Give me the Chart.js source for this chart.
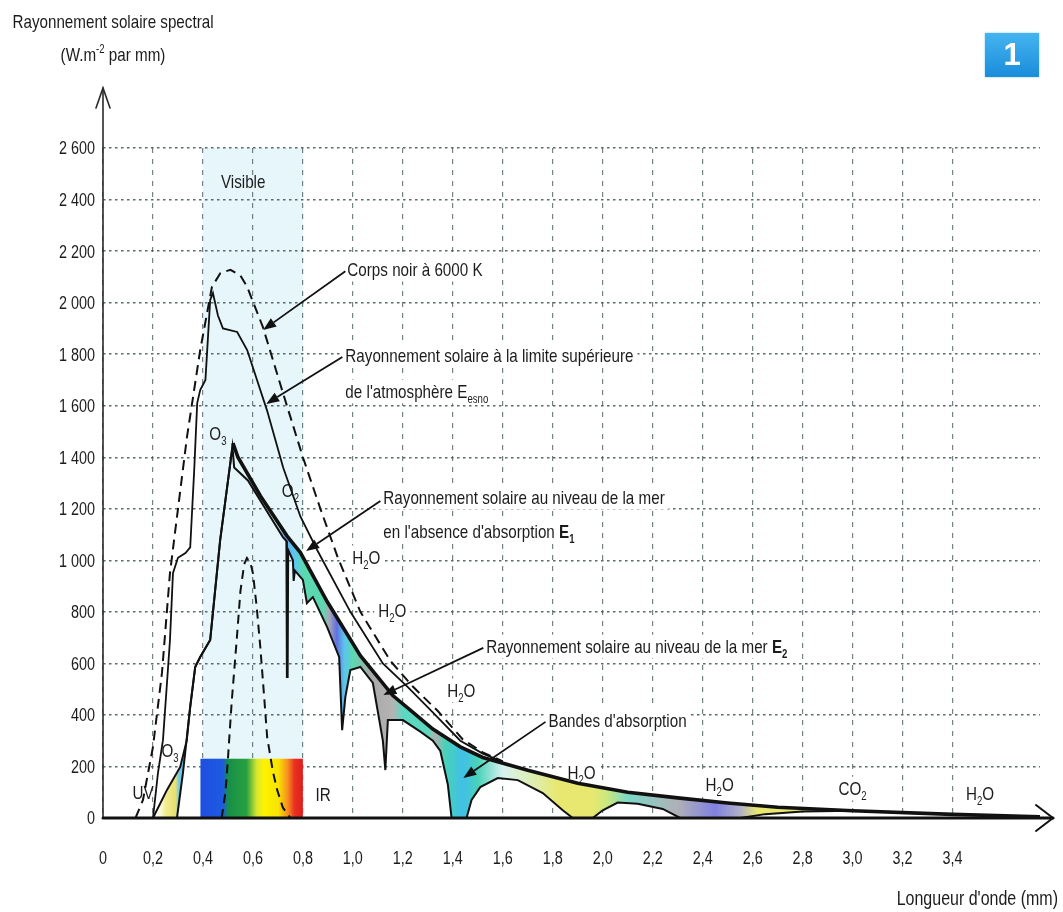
<!DOCTYPE html>
<html lang="fr"><head><meta charset="utf-8"><title>Rayonnement solaire spectral</title>
<script src="https://cdn.jsdelivr.net/npm/chart.js@4.4.1/dist/chart.umd.min.js"></script>
<style>
html,body{margin:0;padding:0;background:#fff;}
#wrap{position:relative;width:1063px;height:912px;overflow:hidden;}
#chart{position:absolute;left:0;top:0;}
#badge{position:absolute;left:985px;top:33px;width:54px;height:44px;background:linear-gradient(#45b4f0,#1a8ddb);color:#fff;font:bold 31px "Liberation Sans",Arial,sans-serif;display:flex;align-items:center;justify-content:center;box-shadow:0 0 2px #7fc7f0;}
</style></head>
<body><div id="wrap"><canvas id="chart" width="1063" height="912"></canvas><div id="badge">1</div></div>
<script>
// ---------------- DATA ----------------
const xTickValues = [0,0.2,0.4,0.6,0.8,1.0,1.2,1.4,1.6,1.8,2.0,2.2,2.4,2.6,2.8,3.0,3.2,3.4];
const yTickValues = [0,200,400,600,800,1000,1200,1400,1600,1800,2000,2200,2400,2600];

// Corps noir à 6000 K
const blackBodyX = [0.13,0.16,0.2,0.236,0.268,0.288,0.336,0.389,0.436,0.47,0.51,0.55,0.577,0.64,0.72,0.80,0.87,0.94,1.03,1.15,1.24,1.34,1.44,1.52,1.6];
const blackBodyY = [0,70,276,563,950,1106,1478,1816,2061,2115,2127,2105,2061,1905,1650,1400,1200,1010,800,610,510,415,305,255,220];

// Limite supérieure de l'atmosphère (E esno)
const esnoX = [0.2,0.22,0.24,0.268,0.28,0.30,0.33,0.349,0.365,0.377,0.389,0.41,0.429,0.44,0.46,0.48,0.537,0.577,0.657,0.721,0.79,0.857,0.99,1.12,1.22,1.32,1.43,1.52,1.6];
const esnoY = [0,175,302,690,950,1010,1028,1050,1350,1610,1661,1700,2010,2037,1950,1900,1886,1816,1580,1360,1170,1040,800,600,508,410,300,250,218];

// Niveau de la mer sans absorption (E1)
const e1X = [0.2,0.256,0.309,0.335,0.349,0.369,0.389,0.429,0.449,0.469,0.495,0.52,0.54,0.63,0.736,0.79,0.897,1.03,1.16,1.23,1.32,1.43,1.52,1.7,1.9,2.1,2.3,2.5,2.7,3.0,3.4,3.75];
const e1Y = [0,109,198,300,431,586,625,691,885,1079,1270,1455,1400,1250,1095,1030,840,630,475,419,345,276,235,185,135,100,78,58,42,28,14,5];

// Niveau de la mer avec absorption (E2)
const e2X = [0.2,0.296,0.32,0.349,0.369,0.389,0.429,0.449,0.469,0.495,0.518,0.525,0.58,0.669,0.72,0.734,0.736,0.739,0.741,0.76,0.763,0.768,0.80,0.816,0.84,0.897,0.945,0.957,0.97,0.99,1.03,1.08,1.12,1.13,1.14,1.20,1.27,1.32,1.35,1.38,1.395,1.455,1.475,1.51,1.58,1.66,1.76,1.84,1.88,1.96,2.0,2.06,2.14,2.24,2.31,2.55,2.65,2.8,3.0];
const e2Y = [0,0,175,431,586,625,691,885,1079,1270,1440,1360,1310,1170,1090,1075,547,547,1040,1000,920,960,924,834,857,741,625,341,470,574,586,524,300,186,380,380,335,300,260,130,0,0,70,120,155,147,97,30,0,0,30,60,55,35,0,0,15,25,28];

// Sensibilité de l'œil (courbe du visible)
const eyeX = [0.475,0.49,0.50,0.515,0.535,0.55,0.565,0.576,0.59,0.60,0.615,0.629,0.645,0.657,0.68,0.697,0.72,0.75];
const eyeY = [0,100,230,450,690,880,985,1009,990,950,820,670,470,314,180,109,40,0];

const visibleRange = [0.4, 0.8];
const spectrumBar = {from: 0.39, to: 0.8, top: 230};

// ---------------- STYLE ----------------
const FONT = '"Liberation Sans",Arial,sans-serif';
const SX = 0.8;           // horizontal condensing of text (narrow face look)
const TXT = '#1c1c1c';
const BAND_COLORS = [[0.2,'rgba(255,255,255,0)'],[0.25,'#f2ec90'],[0.29,'#e8e070'],[0.305,'#70c8ec'],[0.34,'#70c8ec'],[0.5,'#e4f6f6'],[0.70,'#d0f0f2'],[0.725,'#6aaef0'],[0.77,'#5cc8f0'],[0.80,'#5cd8b0'],[0.88,'#5cd8b0'],[0.905,'#a8a8b4'],[0.935,'#6070e0'],[0.965,'#5cc4ee'],[1.0,'#5cd8b0'],[1.07,'#a8a8a8'],[1.16,'#b4b4b4'],[1.2,'#5cd8c0'],[1.3,'#5cd8c0'],[1.33,'#b0b0b0'],[1.37,'#48d2b8'],[1.44,'#40c0e8'],[1.5,'#48d2b8'],[1.6,'#d8f2f0'],[1.75,'#e0eca0'],[1.82,'#e8e870'],[1.96,'#e8e870'],[2.02,'#c8e880'],[2.1,'#7cd8c8'],[2.3,'#b0b0b8'],[2.45,'#8080e0'],[2.55,'#b0b0c8'],[2.62,'#e8e870'],[2.8,'#e8e870'],[2.95,'#70c0c0']];
const SPECTRUM_COLORS = [[0,'#1d4fe2'],[0.22,'#1f5ae0'],[0.27,'#168f48'],[0.45,'#2aa040'],[0.55,'#d8e830'],[0.62,'#fff200'],[0.76,'#f8e400'],[0.85,'#f89020'],[0.92,'#e83020'],[1,'#e01e1e']];

const labels = [
  {parts:[['Visible']], x:0.561, y:2472, align:'center'},
  {parts:[['Corps noir à 6000 K']], x:0.978, y:2130, box:true},
  {parts:[['Rayonnement solaire à la limite supérieure']], x:0.97, y:1797, box:true},
  {parts:[["de l'atmosphère E"],['esno','sub']], x:0.97, y:1657, box:true},
  {parts:[['O'],['3','sub']], x:0.46, y:1494, align:'center'},
  {parts:[['O'],['2','sub']], x:0.75, y:1273, align:'center'},
  {parts:[['Rayonnement solaire au niveau de la mer']], x:1.122, y:1246, box:true},
  {parts:[["en l'absence d'absorption "],['E','b'],['1','bsub']], x:1.122, y:1114, box:true},
  {parts:[['H'],['2','sub'],['O']], x:1.054, y:1013, align:'center', box:true},
  {parts:[['H'],['2','sub'],['O']], x:1.158, y:807, align:'center', box:true},
  {parts:[['Rayonnement solaire au niveau de la mer '],['E','b'],['2','bsub']], x:1.534, y:667, box:true},
  {parts:[['H'],['2','sub'],['O']], x:1.434, y:497, align:'center', box:true},
  {parts:[["Bandes d'absorption"]], x:1.783, y:380, box:true},
  {parts:[['O'],['3','sub']], x:0.268, y:264, align:'center'},
  {parts:[['UV']], x:0.16, y:101, align:'center'},
  {parts:[['IR']], x:0.881, y:93, align:'center'},
  {parts:[['H'],['2','sub'],['O']], x:1.915, y:178, align:'center', box:true},
  {parts:[['H'],['2','sub'],['O']], x:2.468, y:132, align:'center', box:true},
  {parts:[['CO'],['2','sub']], x:3.0, y:116, align:'center', box:true},
  {parts:[['H'],['2','sub'],['O']], x:3.51, y:97, align:'center', box:true}
];
const arrows = [
  {from:[0.97,2122], to:[0.641,1894]},
  {from:[0.958,1789], to:[0.653,1607]},
  {from:[1.11,1230], to:[0.813,1036]},
  {from:[1.522,660], to:[1.122,477]},
  {from:[1.771,373], to:[1.442,155]}
];

// ---------------- HELPERS ----------------
const pts = (xs, ys) => xs.map((x, i) => ({x, y: ys[i]}));
const fmtX = v => v === 0 ? '0' : v.toFixed(1).replace('.', ',');
const fmtY = v => v >= 1000 ? Math.floor(v/1000) + ' ' + String(v % 1000).padStart(3, '0') : String(v);

function bandGradient(chart) {
  const a = chart.chartArea;
  if (!a) return 'rgba(90,210,180,0.8)';
  const sx = chart.scales.x;
  const g = chart.ctx.createLinearGradient(a.left, 0, a.right, 0);
  BAND_COLORS.forEach(([v, c]) => {
    const o = (sx.getPixelForValue(v) - a.left) / (a.right - a.left);
    g.addColorStop(Math.max(0, Math.min(1, o)), c);
  });
  return g;
}

function drawRich(ctx, parts, x, y, size, align, box) {
  let w = 0;
  const segs = parts.map(([t, m]) => {
    const small = m === 'sub' || m === 'bsub' || m === 'sup';
    const fs = small ? Math.round(size * 0.64) : size;
    const weight = (m === 'b' || m === 'bsub') ? 'bold ' : '';
    ctx.font = weight + fs + 'px ' + FONT;
    const sw = ctx.measureText(t).width * SX;
    w += sw;
    return {t, m, fs, weight, sw};
  });
  let x0 = align === 'center' ? x - w / 2 : (align === 'right' ? x - w : x);
  if (box) {
    ctx.fillStyle = '#fff';
    ctx.fillRect(x0 - 4, y - size * 0.6, w + 8, size * 1.25);
  }
  ctx.fillStyle = TXT;
  ctx.textBaseline = 'alphabetic';
  ctx.textAlign = 'left';
  const base = y + size * 0.36;
  segs.forEach(s => {
    ctx.font = s.weight + s.fs + 'px ' + FONT;
    let dy = 0;
    if (s.m === 'sub' || s.m === 'bsub') dy = size * 0.26;
    if (s.m === 'sup') dy = -size * 0.42;
    ctx.save();
    ctx.translate(x0, base + dy);
    ctx.scale(SX, 1);
    ctx.fillText(s.t, 0, 0);
    ctx.restore();
    x0 += s.sw;
  });
}

const decorPlugin = {
  id: 'decor',
  beforeDraw(chart) {
    const {ctx, chartArea: a, scales: {x}} = chart;
    ctx.save();
    ctx.fillStyle = '#e6f6fa';
    const x0 = x.getPixelForValue(visibleRange[0]), x1 = x.getPixelForValue(visibleRange[1]);
    ctx.fillRect(x0, a.top, x1 - x0, a.bottom - a.top);
    ctx.restore();
  },
  beforeDatasetsDraw(chart) {
    const {ctx, scales: {x, y}} = chart;
    ctx.save();
    const bx0 = x.getPixelForValue(spectrumBar.from), bx1 = x.getPixelForValue(spectrumBar.to);
    const by0 = y.getPixelForValue(spectrumBar.top), by1 = y.getPixelForValue(0);
    const g = ctx.createLinearGradient(bx0, 0, bx1, 0);
    SPECTRUM_COLORS.forEach(([o, c]) => g.addColorStop(o, c));
    ctx.fillStyle = g;
    ctx.fillRect(bx0, by0, bx1 - bx0, by1 - by0);
    labels.forEach(l => drawRich(ctx, l.parts, x.getPixelForValue(l.x), y.getPixelForValue(l.y), l.size || 19, l.align || 'left', l.box));
    ctx.restore();
  },
  afterDatasetsDraw(chart) {
    const {ctx, scales: {x, y}} = chart;
    ctx.save();
    ctx.strokeStyle = '#111';
    ctx.fillStyle = '#111';
    ctx.lineWidth = 1.8;
    arrows.forEach(ar => {
      const fx = x.getPixelForValue(ar.from[0]), fy = y.getPixelForValue(ar.from[1]);
      const tx = x.getPixelForValue(ar.to[0]), ty = y.getPixelForValue(ar.to[1]);
      const ang = Math.atan2(ty - fy, tx - fx);
      const L = 13, W = 5;
      const bx = tx - L * Math.cos(ang), by = ty - L * Math.sin(ang);
      ctx.beginPath(); ctx.moveTo(fx, fy); ctx.lineTo(bx, by); ctx.stroke();
      ctx.beginPath();
      ctx.moveTo(tx, ty);
      ctx.lineTo(bx + W * Math.sin(ang), by - W * Math.cos(ang));
      ctx.lineTo(bx - W * Math.sin(ang), by + W * Math.cos(ang));
      ctx.closePath(); ctx.fill();
    });
    ctx.restore();
  },
  afterDraw(chart) {
    const {ctx, chartArea: a, scales: {x, y}} = chart;
    ctx.save();
    ctx.strokeStyle = '#2a2a2a';
    ctx.lineCap = 'round';
    const yTop = a.top - 60;
    ctx.lineWidth = 1.6;
    ctx.beginPath(); ctx.moveTo(a.left, a.bottom); ctx.lineTo(a.left, yTop); ctx.stroke();
    ctx.beginPath(); ctx.moveTo(a.left - 7, yTop + 20); ctx.lineTo(a.left, yTop); ctx.lineTo(a.left + 7, yTop + 20); ctx.stroke();
    const xEnd = a.right + 13;
    ctx.strokeStyle = '#111';
    ctx.lineWidth = 3;
    ctx.beginPath(); ctx.moveTo(a.left, a.bottom); ctx.lineTo(xEnd, a.bottom); ctx.stroke();
    ctx.lineWidth = 2;
    ctx.beginPath(); ctx.moveTo(xEnd - 17, a.bottom - 13); ctx.lineTo(xEnd, a.bottom); ctx.lineTo(xEnd - 17, a.bottom + 13); ctx.stroke();
    // tick labels (condensed), positioned by the scales
    xTickValues.forEach(v => drawRich(ctx, [[fmtX(v)]], x.getPixelForValue(v), a.bottom + 40, 18, 'center', false));
    yTickValues.forEach(v => drawRich(ctx, [[fmtY(v)]], a.left - 8, y.getPixelForValue(v), 18, 'right', false));
    // axis titles
    drawRich(ctx, [['Rayonnement solaire spectral']], 113, 21, 19, 'center', false);
    drawRich(ctx, [['(W.m'], ['-2', 'sup'], [' par mm)']], 113, 54, 19, 'center', false);
    drawRich(ctx, [["Longueur d'onde (mm)"]], 1058, 898, 20, 'right', false);
    ctx.restore();
  }
};

const lineBase = {pointRadius: 0, tension: 0, fill: false, borderColor: '#111'};

new Chart(document.getElementById('chart'), {
  type: 'line',
  data: {
    datasets: [
      {...lineBase, label: 'Corps noir à 6000 K', data: pts(blackBodyX, blackBodyY), borderWidth: 2, borderDash: [10, 6]},
      {...lineBase, label: "Rayonnement solaire à la limite supérieure de l'atmosphère", data: pts(esnoX, esnoY), borderWidth: 1.8},
      {...lineBase, label: "Rayonnement solaire au niveau de la mer en l'absence d'absorption E1", data: pts(e1X, e1Y), borderWidth: 3.6,
        segment: {borderWidth: c => c.p0.parsed.x < 0.51 ? 2 : 3.6}},
      {...lineBase, label: 'Rayonnement solaire au niveau de la mer E2', data: pts(e2X, e2Y), borderWidth: 2,
        fill: {target: 2}, backgroundColor: ctx => bandGradient(ctx.chart)},
      {...lineBase, label: 'Visible', data: pts(eyeX, eyeY), borderWidth: 2, borderDash: [9, 6]}
    ]
  },
  options: {
    responsive: false,
    animation: false,
    devicePixelRatio: 1,
    layout: {padding: {left: 0, top: 148, right: 23, bottom: 0}},
    plugins: {legend: {display: false}, tooltip: {enabled: false}},
    scales: {
      x: {
        type: 'linear', min: 0, max: 3.75,
        afterBuildTicks: s => { s.ticks = xTickValues.map(v => ({value: v})); },
        afterFit: s => { s.height = 94; },
        grid: {color: 'rgba(70,90,90,0.75)', lineWidth: 1.2, drawTicks: false},
        border: {display: false, dash: [5, 6]},
        ticks: {display: false}
      },
      y: {
        type: 'linear', min: 0, max: 2600,
        afterBuildTicks: s => { s.ticks = yTickValues.map(v => ({value: v})); },
        afterFit: s => { s.width = 103; },
        grid: {color: 'rgba(60,80,80,0.85)', lineWidth: 1.4, drawTicks: false},
        border: {display: false, dash: [2.5, 3.5]},
        ticks: {display: false}
      }
    }
  },
  plugins: [decorPlugin]
});
</script></body></html>
